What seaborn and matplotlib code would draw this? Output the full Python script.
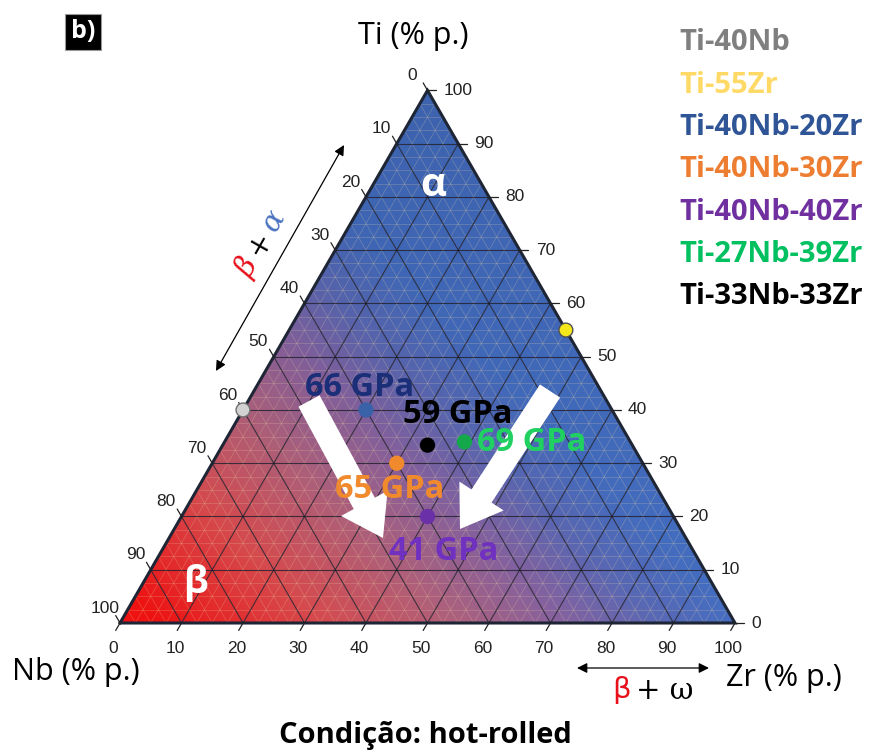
import numpy as np
import pandas as pd
import matplotlib
matplotlib.use("Agg")
import matplotlib.pyplot as plt
from matplotlib.patches import Polygon
from matplotlib.colors import LinearSegmentedColormap
import seaborn as sns

sns.set_theme(style="white")
plt.rcParams["font.family"] = ["Open Sans", "DejaVu Sans"]

# Alloy compositions (wt.%) as placed on the diagram
alloys = ["Ti-40Nb", "Ti-55Zr", "Ti-40Nb-20Zr", "Ti-40Nb-30Zr",
          "Ti-40Nb-40Zr", "Ti-27Nb-39Zr", "Ti-33Nb-33Zr"]
ti = [40, 55, 40, 30, 20, 34, 33.4]
nb = [60, 0, 40, 40, 40, 27, 33.3]
zr = [0, 45, 20, 30, 40, 39, 33.3]
# Elastic modulus (GPa); None where no value is reported
modulus = [None, None, 66, 65, 41, 69, 59]

name_colors = ["#7f7f7f", "#ffd966", "#2f5597", "#ed7d31",
               "#7030a0", "#00c060", "#000000"]
point_colors = ["#d2d2d2", "#f5e81a", "#3a62a8", "#f08a2c",
                "#6a30a8", "#14a84a", "#000000"]
point_edges = ["#707070", "#505050", "#3a62a8", "#f08a2c",
               "#6a30a8", "#14a84a", "#000000"]
label_colors = [None, None, "#1b2f78", "#f08a2c", "#7030c0", "#20d060", "#000000"]

ticks = list(range(0, 101, 10))

SQ = np.sqrt(3) / 2
PX = 6.15  # pixels per composition unit


def cart(t, z):
    """Ternary (Ti, Zr) -> Cartesian, Nb corner at origin, Zr corner at (100, 0)."""
    t = np.asarray(t, dtype=float)
    z = np.asarray(z, dtype=float)
    return z + t / 2, t * SQ


def px2d(px, py):
    return (px - 120) / PX, (623 - py) / PX


df = pd.DataFrame({"alloy": alloys, "Ti": ti, "Nb": nb, "Zr": zr, "E": modulus})
df["x"], df["y"] = cart(df["Ti"], df["Zr"])

fig = plt.figure(figsize=(8.73, 7.51), dpi=100)
ax = fig.add_axes([0, 0, 1, 1])
ax.set_xlim(-120 / PX, (873 - 120) / PX)
ax.set_ylim(-(751 - 623) / PX, 623 / PX)
ax.axis("off")

# ---- colour field inside the triangle ----
tri = Polygon([(0, 0), (100, 0), (50, 100 * SQ)], closed=True,
              facecolor="none", edgecolor="none")
ax.add_patch(tri)
gx = np.linspace(0, 100, 800)
gy = np.linspace(0, 100 * SQ, 700)
GX, GY = np.meshgrid(gx, gy)
proj = 0.71 * GX + 0.70 * GY
tval = np.clip((proj - 4) / 68, 0, 1)
cmap = LinearSegmentedColormap.from_list(
    "nbzr", [(0.0, "#ee1212"), (0.28, "#d64a4e"), (0.5, "#b0607a"),
             (0.7, "#8462a0"), (0.85, "#5a68b4"), (1.0, "#446ec2")])
rgba = cmap(tval)
# slightly deeper blue towards the Ti corner
shade = 1 - 0.10 * (GY / (100 * SQ)) * tval
rgba[..., :3] *= shade[..., None]
img = ax.imshow(rgba, extent=(0, 100, 0, 100 * SQ), origin="lower",
                interpolation="bilinear", zorder=1)
img.set_clip_path(tri)

# fine light mesh
for v in np.arange(2.5, 100, 2.5):
    for (a0, b0), (a1, b1) in [((v, 0), (v, 100 - v)),            # const Ti
                               ((0, v), (100 - v, v)),            # const Zr
                               ((100 - v, 0), (0, 100 - v))]:     # const Nb
        x0, y0 = cart(a0, b0)
        x1, y1 = cart(a1, b1)
        ax.plot([x0, x1], [y0, y1], color="#f0d9a8", lw=0.5, alpha=0.28, zorder=2)

# major grid
for v in range(10, 100, 10):
    for (a0, b0), (a1, b1) in [((v, 0), (v, 100 - v)),
                               ((0, v), (100 - v, v)),
                               ((100 - v, 0), (0, 100 - v))]:
        x0, y0 = cart(a0, b0)
        x1, y1 = cart(a1, b1)
        ax.plot([x0, x1], [y0, y1], color="#1a1a2a", lw=0.8, alpha=0.8, zorder=3)

# triangle outline
ax.plot([0, 100, 50, 0], [0, 0, 100 * SQ, 0], color="#1e2535", lw=2.2,
        solid_joinstyle="miter", zorder=4)

# ---- ticks and tick labels ----
tl = 1.4
tick_font = dict(fontsize=12.5, color="#222222", family=["Liberation Sans", "DejaVu Sans"])
for v in ticks:
    # bottom axis: Zr
    x, y = cart(0, v)
    ax.plot([x, x - 0.5 * tl], [y, y - SQ * tl], color="#222222", lw=0.9, zorder=4)
    ax.text(x - 1.05, y - 4.1, f"{v}", ha="center", va="center", **tick_font)
    # right axis: Ti
    x, y = cart(v, 100 - v)
    ax.plot([x, x + tl], [y, y], color="#222222", lw=0.9, zorder=4)
    ax.text(x + 2.6, y, f"{v}", ha="left", va="center", **tick_font)
    # left axis: Nb
    x, y = cart(100 - v, 0)
    ax.plot([x, x - 0.5 * tl], [y, y + SQ * tl], color="#222222", lw=0.9, zorder=4)
    ax.text(x - 2.5, y + 2.4, f"{v}", ha="center", va="center", **tick_font)

# ---- alloy points ----
sns.scatterplot(data=df, x="x", y="y", hue="alloy",
                palette=dict(zip(alloys, point_colors)),
                s=100, edgecolor=point_edges, linewidth=1.0,
                legend=False, ax=ax, zorder=6)

# modulus labels next to the points
label_offsets = {"Ti-40Nb-20Zr": (-6, -22, "center"),
                 "Ti-40Nb-30Zr": (-7, 26, "center"),
                 "Ti-40Nb-40Zr": (16, 35, "center"),
                 "Ti-27Nb-39Zr": (13, 1, "left"),
                 "Ti-33Nb-33Zr": (30, -31, "center")}
for _, r in df.iterrows():
    if r["E"] is None or pd.isna(r["E"]):
        continue
    dx, dy, ha = label_offsets[r["alloy"]]
    ax.annotate(f"{int(r['E'])} GPa", (r["x"], r["y"]), xytext=(dx * 0.72, -dy * 0.72),
                textcoords="offset points", ha=ha, va="center",
                fontsize=23.5, fontweight="bold",
                color=label_colors[alloys.index(r["alloy"])], zorder=7)

# ---- white trend arrows ----
for (tx, ty), (hx, hy) in [((309, 401), (383, 538)), ((550, 391), (460, 529))]:
    x0, y0 = px2d(tx, ty)
    x1, y1 = px2d(hx, hy)
    ax.arrow(x0, y0, x1 - x0, y1 - y0, width=3.9, head_width=8.6, head_length=6.4,
             length_includes_head=True, facecolor="white", edgecolor="none", zorder=5)

# phase labels inside the triangle
ax.text(*px2d(433, 186), "α", ha="center", va="center", fontsize=29,
        fontweight="bold", color="white", zorder=7)
ax.text(*px2d(195, 583), "β", ha="center", va="center", fontsize=27,
        fontweight="bold", color="white", zorder=7)

# ---- β + α range along the Nb axis ----
ax.annotate("", xy=px2d(344, 145), xytext=px2d(216, 371),
            arrowprops=dict(arrowstyle="<|-|>", color="black", lw=0.9,
                            mutation_scale=15, shrinkA=0, shrinkB=0))
greek = dict(family=["DejaVu Serif"], fontsize=21, rotation=60.5,
             rotation_mode="anchor", ha="center", va="center")
ax.text(*px2d(247, 268), "β", color="#e8101a", style="italic", **greek)
ax.text(*px2d(260, 243), "+", color="black", **greek)
ax.text(*px2d(274, 221), "α", color="#4a72c0", style="italic", **greek)

# ---- β + ω range along the Zr axis ----
ax.annotate("", xy=px2d(709, 668), xytext=px2d(577, 668),
            arrowprops=dict(arrowstyle="<|-|>", color="black", lw=0.9,
                            mutation_scale=15, shrinkA=0, shrinkB=0))
ax.text(*px2d(622, 690), "β", color="#e8101a", fontsize=21, ha="center", va="center",
        family=["DejaVu Sans"])
ax.text(*px2d(665, 691), "+ ω", color="black", fontsize=21, ha="center", va="center",
        family=["DejaVu Serif"])

# ---- axis titles ----
ax.text(*px2d(413, 36), "Ti (% p.)", ha="center", va="center", fontsize=22, color="black")
ax.text(*px2d(76, 672), "Nb (% p.)", ha="center", va="center", fontsize=22, color="black")
ax.text(*px2d(784, 678), "Zr (% p.)", ha="center", va="center", fontsize=22, color="black")

# ---- alloy names ----
for i, (name, c) in enumerate(zip(alloys, name_colors)):
    ax.text(*px2d(679, 43 + i * 42.3), name, ha="left", va="center",
            fontsize=21, fontweight="bold", color=c)

# panel tag and condition
ax.text(*px2d(83, 32), "b)", ha="center", va="center", fontsize=18,
        fontweight="bold", color="white",
        bbox=dict(boxstyle="square,pad=0.22", facecolor="black", edgecolor="#999999", lw=0.8))
ax.text(*px2d(425, 735), "Condição: hot-rolled", ha="center", va="center",
        fontsize=21, fontweight="bold", color="black")

fig.savefig("out.png", dpi=100)
